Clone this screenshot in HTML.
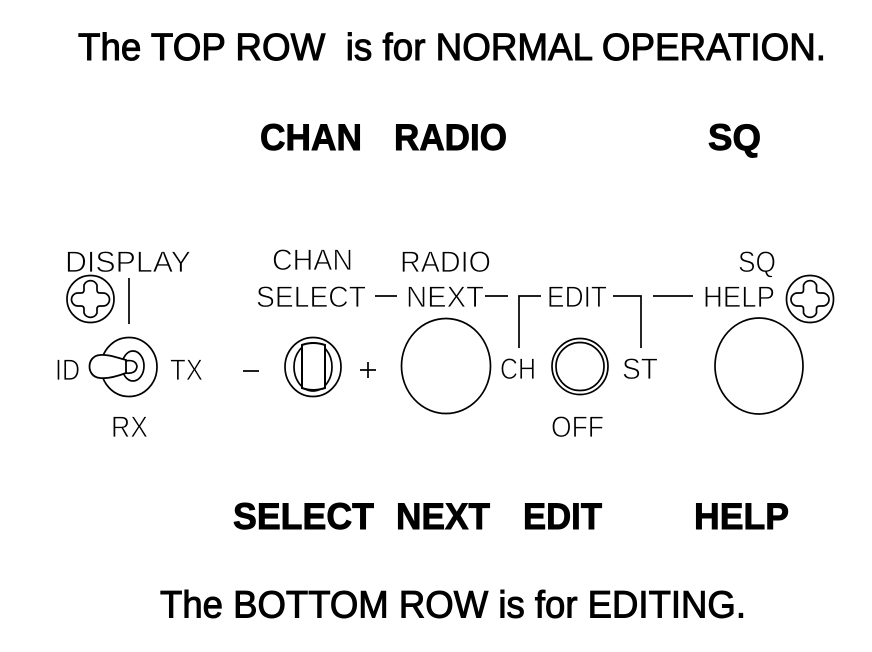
<!DOCTYPE html>
<html>
<head>
<meta charset="utf-8">
<style>
html,body{margin:0;padding:0;background:#fff;width:872px;height:652px;overflow:hidden}
svg{display:block}
text{font-family:"Liberation Sans",sans-serif;fill:#000}
.h{font-size:38px;stroke:#000;stroke-width:1}
.b{font-size:37.500px;font-weight:bold;stroke:#000;stroke-width:.9}
.l{font-size:30px;stroke:#fff;stroke-width:.8;fill:#000}
.s{fill:none;stroke:#000;stroke-width:1.700}
</style>
</head>
<body>
<svg width="872" height="652" viewBox="0 0 872 652" xmlns="http://www.w3.org/2000/svg">
<text class="h" x="78" y="60" textLength="748" lengthAdjust="spacingAndGlyphs" xml:space="preserve">The TOP ROW  is for NORMAL OPERATION.</text>
<text class="b" x="260" y="150" textLength="102" lengthAdjust="spacingAndGlyphs">CHAN</text>
<text class="b" x="394" y="150" textLength="113" lengthAdjust="spacingAndGlyphs">RADIO</text>
<text class="b" x="708" y="150" textLength="53" lengthAdjust="spacingAndGlyphs">SQ</text>

<text class="l" x="65" y="272" textLength="126" lengthAdjust="spacingAndGlyphs">DISPLAY</text>
<text class="l" x="272" y="270" textLength="81" lengthAdjust="spacingAndGlyphs">CHAN</text>
<text class="l" x="400" y="272" textLength="91" lengthAdjust="spacingAndGlyphs">RADIO</text>
<text class="l" x="738" y="272" textLength="38" lengthAdjust="spacingAndGlyphs">SQ</text>
<text class="l" x="256" y="307" textLength="110" lengthAdjust="spacingAndGlyphs">SELECT</text>
<text class="l" x="406" y="307" textLength="78" lengthAdjust="spacingAndGlyphs">NEXT</text>
<text class="l" x="547" y="307" textLength="60" lengthAdjust="spacingAndGlyphs">EDIT</text>
<text class="l" x="703" y="307" textLength="72" lengthAdjust="spacingAndGlyphs">HELP</text>
<text class="l" x="55" y="380" textLength="25" lengthAdjust="spacingAndGlyphs">ID</text>
<text class="l" x="170" y="380" textLength="33" lengthAdjust="spacingAndGlyphs">TX</text>
<text class="l" x="111" y="437" textLength="37" lengthAdjust="spacingAndGlyphs">RX</text>
<text class="l" x="500" y="379" textLength="36" lengthAdjust="spacingAndGlyphs">CH</text>
<text class="l" x="622" y="379" textLength="36" lengthAdjust="spacingAndGlyphs">ST</text>
<text class="l" x="551" y="437" textLength="53" lengthAdjust="spacingAndGlyphs">OFF</text>

<!-- connector lines -->
<path class="s" d="M129 278V324M375 296H397M485 296H508M541 296H519V348M613 296H641V348M653 296H693"/>
<path class="s" d="M243 371H259M360 370H376M368 362V378"/>

<!-- screws -->
<g>
<circle class="s" cx="90.500" cy="299" r="23.500"/>
<path class="s" d="M84 285a7 7 0 0 1 13 0v5q0 3 3 3h3a6.500 6.500 0 0 1 0 13h-3q-3 0-3 3v4a7 7 0 0 1-13 0v-4q0-3-3-3h-3a6.500 6.500 0 0 1 0-13h3q3 0 3-3z"/>
</g>
<g transform="translate(719.500 0)">
<circle class="s" cx="90.500" cy="299" r="23.500"/>
<path class="s" d="M84 285a7 7 0 0 1 13 0v5q0 3 3 3h3a6.500 6.500 0 0 1 0 13h-3q-3 0-3 3v4a7 7 0 0 1-13 0v-4q0-3-3-3h-3a6.500 6.500 0 0 1 0-13h3q3 0 3-3z"/>
</g>

<!-- toggle switch -->
<ellipse class="s" cx="129" cy="367" rx="28" ry="29.500"/>
<ellipse class="s" cx="133" cy="366" rx="11" ry="15"/>
<path d="M100 355C108 354 118 358 126 360L126 373C118 376 108 379 100 378C86 377 86 356 100 355Z" fill="#fff" stroke="#000" stroke-width="1.800"/>
<path class="s" d="M125 361q11-2 12 5.500q-1 8-12 6.500" stroke-width="2"/>

<!-- select knob -->
<ellipse class="s" cx="313" cy="367" rx="28" ry="29.500"/>
<ellipse class="s" cx="313" cy="367" rx="19" ry="24"/>
<path d="M302 345Q313 341 325 345V388Q313 392 302 388Z" fill="#fff" stroke="#000" stroke-width="2"/>

<!-- big knobs -->
<ellipse class="s" cx="446" cy="366" rx="44.500" ry="47.500"/>
<ellipse class="s" cx="759" cy="366" rx="44" ry="48"/>

<!-- off knob -->
<circle class="s" cx="580" cy="366.500" r="28"/>
<circle class="s" cx="580" cy="366.500" r="24"/>

<text class="b" x="233" y="529" textLength="141" lengthAdjust="spacingAndGlyphs">SELECT</text>
<text class="b" x="396" y="529" textLength="94" lengthAdjust="spacingAndGlyphs">NEXT</text>
<text class="b" x="523" y="529" textLength="79" lengthAdjust="spacingAndGlyphs">EDIT</text>
<text class="b" x="694" y="529" textLength="95" lengthAdjust="spacingAndGlyphs">HELP</text>
<text class="h" x="160" y="617.500" textLength="586" lengthAdjust="spacingAndGlyphs">The BOTTOM ROW is for EDITING.</text>
</svg>
</body>
</html>
